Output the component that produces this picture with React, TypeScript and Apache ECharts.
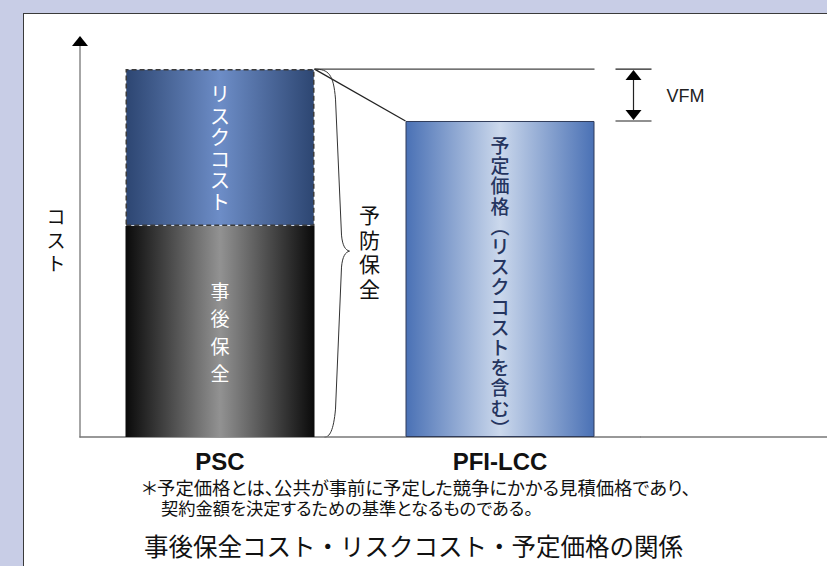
import React, { useEffect, useRef } from 'react';
import * as echarts from 'echarts';

// Columns on the horizontal axis
const categories = ['PSC', 'PFI-LCC'];

// Cost values (relative units, axis runs 0..100); '-' = no bar in that column
const postMaintenance = [53.3, '-']; // 事後保全
const riskCost = [39.6, '-']; // リスクコスト (stacked on 事後保全)
const plannedPrice = ['-', 79.8]; // 予定価格（リスクコストを含む）

const yMax = 100;

const JP = '"Noto Sans CJK JP", "Noto Sans", sans-serif';
const LATIN = '"Liberation Sans", Arial, sans-serif';

// Footnote lines, set with proportional kana spacing (their sizes double as the CSS hook)
const noteLines = [
  '＊予定価格とは、公共が事前に予定した競争にかかる見積価格であり、',
  '契約金額を決定するための基準となるものである。',
];
const noteSizes = [18.35, 17.25];

const vertical = (s: string) => Array.from(s).join('\n');

// Curly brace drawn beside the PSC column (local units, height 368)
const BRACE_H = 368;
const BRACE_D =
  'M0 0 C14 0 19 5 21 30 L27 166 C28 177 31 181 35 182 C31 183 28 187 27 198 L21 340 C19 362 15 368 10 368';
let braceRegistered = false;

export default function App() {
  const ref = useRef<HTMLDivElement>(null);

  useEffect(() => {
    if (!ref.current) return;
    if (!braceRegistered) {
      echarts.graphic.registerShape('brace', echarts.graphic.extendPath(BRACE_D, {}));
      braceRegistered = true;
    }
    const chart = echarts.init(ref.current, null, { renderer: 'svg' });

    const grad = (edge: string, mid: string) =>
      new echarts.graphic.LinearGradient(0, 0, 1, 0, [
        { offset: 0, color: edge },
        { offset: 0.5, color: mid },
        { offset: 1, color: edge },
      ]);

    const BAR_W = 189;
    const AXIS_STYLE = { color: '#777', width: 1.5 };

    chart.setOption({
      animation: false,
      grid: { left: 80, width: 560, top: 41, bottom: 129 },
      title: {
        text: '事後保全コスト・リスクコスト・予定価格の関係',
        left: 'center',
        top: 528,
        textStyle: { fontFamily: JP, fontSize: 24.5, fontWeight: 'normal', color: '#111' },
      },
      xAxis: {
        type: 'category',
        data: categories,
        axisLine: { show: true, lineStyle: AXIS_STYLE },
        axisTick: { show: false },
        splitLine: { show: false },
        axisLabel: {
          fontFamily: LATIN,
          fontSize: 24,
          fontWeight: 'bold',
          color: '#111',
          margin: 12,
        },
      },
      yAxis: {
        type: 'value',
        min: 0,
        max: yMax,
        axisLine: { show: true, lineStyle: { color: '#888', width: 1.5 } },
        axisTick: { show: false },
        axisLabel: { show: false },
        splitLine: { show: false },
        name: vertical('コスト'),
        nameLocation: 'middle',
        nameRotate: 0,
        nameGap: 24,
        nameTextStyle: { fontFamily: JP, fontSize: 19, lineHeight: 23.5, color: '#111', align: 'center' },
      },
      series: [
        {
          name: '事後保全',
          type: 'bar',
          stack: 'psc',
          barWidth: BAR_W,
          barGap: '-100%',
          data: postMaintenance,
          itemStyle: { color: grad('#0a0a0a', '#929292') },
          label: {
            show: true,
            position: 'inside',
            formatter: vertical('事後保全'),
            color: '#fff',
            fontFamily: JP,
            fontSize: 19,
            lineHeight: 27.5,
            textBorderWidth: 0,
          },
        },
        {
          name: 'リスクコスト',
          type: 'bar',
          stack: 'psc',
          barWidth: BAR_W,
          barGap: '-100%',
          data: riskCost,
          itemStyle: {
            color: grad('#2d4672', '#6d8dc7'),
            borderColor: '#3a3a3a',
            borderWidth: 1.5,
            borderType: [5, 3],
          },
          label: {
            show: true,
            position: 'inside',
            formatter: vertical('リスクコスト'),
            color: '#fff',
            fontFamily: JP,
            fontSize: 20,
            lineHeight: 21.5,
            textBorderWidth: 0,
          },
        },
        {
          name: '予定価格',
          type: 'bar',
          barWidth: BAR_W,
          barGap: '-100%',
          data: plannedPrice,
          itemStyle: {
            color: grad('#4a71b5', '#cbd8ec'),
            borderColor: '#2f3b5a',
            borderWidth: 1,
          },
          label: {
            show: true,
            position: 'inside',
            offset: [0, 7],
            formatter: vertical('予定価格︵リスクコストを含む︶'),
            color: '#25355f',
            fontFamily: JP,
            fontSize: 19,
            fontWeight: 500,
            lineHeight: 20.2,
            textBorderWidth: 0,
          },
        },
      ],
    });

    // Annotation layer placed from the axes' own coordinate conversion
    const px = (x: number, y: number) => chart.convertToPixel({ gridIndex: 0 }, [x, y]) as number[];
    const pscTop = (postMaintenance[0] as number) + (riskCost[0] as number);
    const [pscCx, yTop] = px(0, pscTop);
    const [pfiCx, yPfi] = px(1, plannedPrice[1] as number);
    const [, yBase] = px(0, 0);
    const [, yAxisEnd] = px(0, yMax);
    const axisX = 80;
    const gridRight = 640;
    const pscRight = pscCx + BAR_W / 2;
    const pfiLeft = pfiCx - BAR_W / 2;
    const pfiRight = pfiCx + BAR_W / 2;
    const vx = pfiRight + 39;
    const braceScale = (yBase - yTop) / BRACE_H;
    const tipY = yTop + 182 * braceScale;

    const noteStyle = (i: number) => ({
      text: noteLines[i],
      fontFamily: JP,
      fontSize: noteSizes[i],
      fill: '#111',
      align: 'left',
      verticalAlign: 'middle',
    });

    chart.setOption({
      graphic: [
        // horizontal axis continues to the panel edge
        {
          type: 'line',
          shape: { x1: gridRight, y1: yBase, x2: 830, y2: yBase },
          style: { stroke: AXIS_STYLE.color, lineWidth: AXIS_STYLE.width },
        },
        // arrow head of the cost axis
        {
          type: 'polygon',
          shape: { points: [[axisX, yAxisEnd - 5], [axisX - 8, yAxisEnd + 5], [axisX + 8, yAxisEnd + 5]] },
          style: { fill: '#000' },
          z: 10,
        },
        // PSC total level carried across
        {
          type: 'line',
          shape: { x1: pscRight, y1: yTop, x2: pfiRight, y2: yTop },
          style: { stroke: '#444', lineWidth: 1.2 },
        },
        // slope from PSC total to planned price
        {
          type: 'line',
          shape: { x1: pscRight, y1: yTop, x2: pfiLeft, y2: yPfi },
          style: { stroke: '#222', lineWidth: 1.2 },
        },
        // VFM dimension
        {
          type: 'line',
          shape: { x1: pfiRight + 21, y1: yTop, x2: pfiRight + 57, y2: yTop },
          style: { stroke: '#222', lineWidth: 1.2 },
        },
        {
          type: 'line',
          shape: { x1: pfiRight + 21, y1: yPfi, x2: pfiRight + 57, y2: yPfi },
          style: { stroke: '#222', lineWidth: 1.2 },
        },
        {
          type: 'line',
          shape: { x1: vx, y1: yTop + 8, x2: vx, y2: yPfi - 8 },
          style: { stroke: '#222', lineWidth: 1.2 },
        },
        {
          type: 'polygon',
          shape: { points: [[vx, yTop + 1], [vx - 8, yTop + 11], [vx + 8, yTop + 11]] },
          style: { fill: '#000' },
        },
        {
          type: 'polygon',
          shape: { points: [[vx, yPfi - 1], [vx - 8, yPfi - 11], [vx + 8, yPfi - 11]] },
          style: { fill: '#000' },
        },
        {
          type: 'text',
          x: pfiRight + 72,
          y: (yTop + yPfi) / 2 + 1,
          style: {
            text: 'VFM',
            fontFamily: LATIN,
            fontSize: 18,
            fill: '#222',
            align: 'left',
            verticalAlign: 'middle',
          },
        },
        // brace spanning the whole PSC column
        {
          type: 'brace',
          x: pscRight,
          y: yTop,
          scaleY: braceScale,
          style: { fill: 'none', stroke: '#333', lineWidth: 1, strokeNoScale: true },
        },
        {
          type: 'text',
          x: pscRight + 55,
          y: tipY,
          style: {
            text: vertical('予防保全'),
            fontFamily: JP,
            fontSize: 21,
            lineHeight: 24.5,
            fill: '#111',
            align: 'center',
            verticalAlign: 'middle',
          },
        },
        // footnote
        { type: 'text', x: 142, y: 487, style: noteStyle(0) },
        { type: 'text', x: 161, y: 507, style: noteStyle(1) },
      ],
    });

    return () => chart.dispose();
  }, []);

  const paltCss = noteSizes
    .map((s) => `text[style*="${s}px"]`)
    .join(', ')
    .concat(' { font-feature-settings: "palt"; }');

  return (
    <div
      style={{
        position: 'fixed',
        left: 0,
        top: 0,
        width: 827,
        height: 566,
        background: '#c8cde6',
        overflow: 'hidden',
      }}
    >
      <style>{paltCss}</style>
      <div
        style={{
          position: 'absolute',
          left: 23,
          top: 13,
          width: 830,
          height: 570,
          background: '#fff',
          borderLeft: '1.5px solid #3a3a3a',
          borderTop: '1.5px solid #3a3a3a',
        }}
      />
      <div ref={ref} style={{ position: 'absolute', left: 0, top: 0, width: 827, height: 566 }} />
    </div>
  );
}
